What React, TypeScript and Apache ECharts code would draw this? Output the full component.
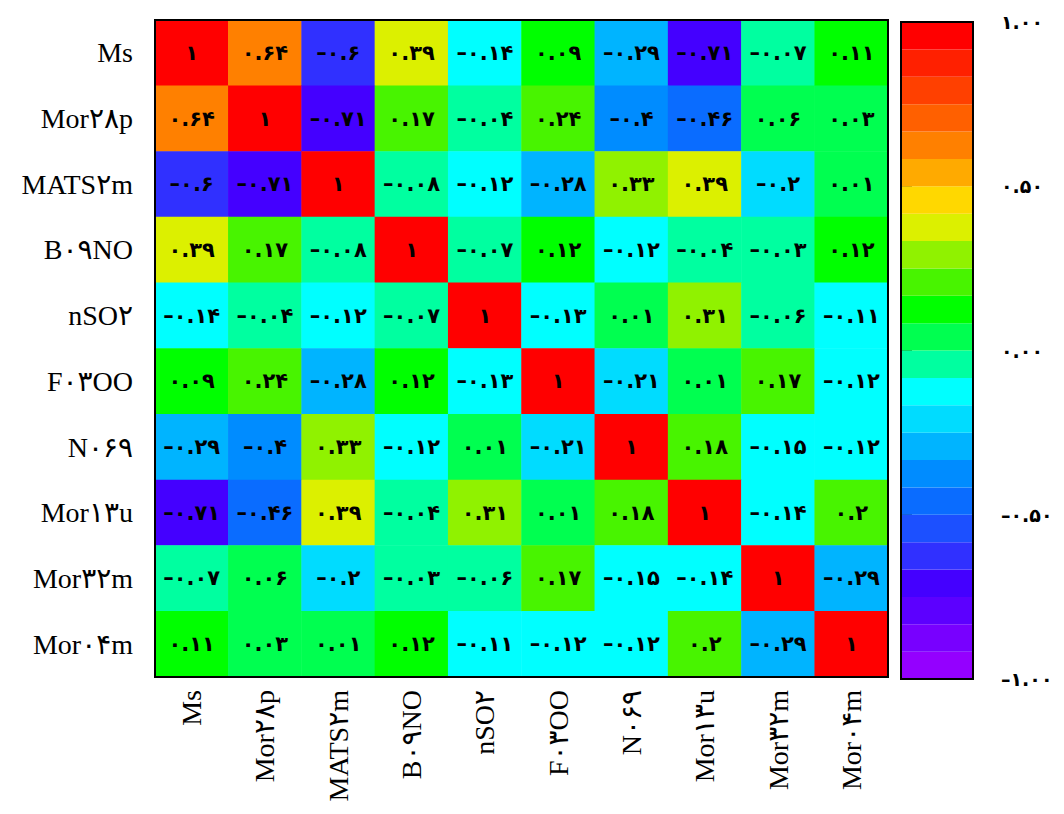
import React, { useEffect, useRef } from "react";
import * as echarts from "echarts";

// Variable names (as displayed, Persian digits)
const labels = ["Ms", "Mor۲۸p", "MATS۲m", "B۰۹NO", "nSO۲", "F۰۳OO", "N۰۶۹", "Mor۱۳u", "Mor۳۲m", "Mor۰۴m"];

// Correlation rows (top to bottom)
const rowMs = [1, 0.64, -0.6, 0.39, -0.14, 0.09, -0.29, -0.71, -0.07, 0.11];
const rowMor28p = [0.64, 1, -0.71, 0.17, -0.04, 0.24, -0.4, -0.46, 0.06, 0.03];
const rowMATS2m = [-0.6, -0.71, 1, -0.08, -0.12, -0.28, 0.33, 0.39, -0.2, 0.01];
const rowB09NO = [0.39, 0.17, -0.08, 1, -0.07, 0.12, -0.12, -0.04, -0.03, 0.12];
const rowNSO2 = [-0.14, -0.04, -0.12, -0.07, 1, -0.13, 0.01, 0.31, -0.06, -0.11];
const rowF03OO = [0.09, 0.24, -0.28, 0.12, -0.13, 1, -0.21, 0.01, 0.17, -0.12];
const rowN069 = [-0.29, -0.4, 0.33, -0.12, 0.01, -0.21, 1, 0.18, -0.15, -0.12];
const rowMor13u = [-0.71, -0.46, 0.39, -0.04, 0.31, 0.01, 0.18, 1, -0.14, 0.2];
const rowMor32m = [-0.07, 0.06, -0.2, -0.03, -0.06, 0.17, -0.15, -0.14, 1, -0.29];
const rowMor04m = [0.11, 0.03, 0.01, 0.12, -0.11, -0.12, -0.12, 0.2, -0.29, 1];
const matrix = [rowMs, rowMor28p, rowMATS2m, rowB09NO, rowNSO2, rowF03OO, rowN069, rowMor13u, rowMor32m, rowMor04m];

// 24 colour bands from -1 (bottom) to +1 (top)
const bandColors = [
  "#9400ff", "#7800ff", "#5c00ff", "#4400ff", "#3030ff", "#1c50ff",
  "#0a6cff", "#008cff", "#00b4ff", "#00dcff", "#00ffff", "#00ffa0",
  "#00ff50", "#00ff00", "#48f400", "#90f200", "#dcf000", "#ffd800",
  "#ffaa00", "#ff8000", "#ff6000", "#ff4000", "#ff2000", "#ff0000",
];
const bandMin = -1;
const bandMax = 1;

const FA = "۰۱۲۳۴۵۶۷۸۹";
const fa = (s: string) => s.replace(/[0-9]/g, (d) => FA[+d]).replace(/-/g, "–");
const cellText = (v: number) => fa(String(v));
const tickText = (v: number) => fa(v.toFixed(2));

const latinFont = "'Liberation Serif', 'DejaVu Sans', serif";
const numFont = "'DejaVu Sans', sans-serif";

export default function App() {
  const ref = useRef<HTMLDivElement>(null);
  useEffect(() => {
    if (!ref.current) return;
    const chart = echarts.init(ref.current, undefined, { renderer: "svg" });
    const step = (bandMax - bandMin) / bandColors.length;
    const pieces = bandColors.map((c, i) => {
      const p: any = { gte: bandMin + i * step, color: c };
      if (i === bandColors.length - 1) p.lte = bandMax;
      else p.lt = bandMin + (i + 1) * step;
      return p;
    });
    const heatData: number[][] = [];
    matrix.forEach((row, i) => row.forEach((v, j) => heatData.push([j, i, v])));
    const barData = bandColors.map((_, i) => [bandMin + i * step, bandMin + (i + 1) * step, i]);

    const GL = 155, GT = 20, GW = 733, GH = 657;
    const CL = 901, CT = 22, CW = 72, CH = 657;

    chart.setOption({
      animation: false,
      backgroundColor: "#fff",
      grid: [
        { left: GL, top: GT, width: GW, height: GH },
        { left: CL, top: CT, width: CW, height: CH },
      ],
      xAxis: [
        {
          type: "category",
          gridIndex: 0,
          data: labels,
          axisLine: { lineStyle: { color: "#000", width: 2 } },
          axisTick: { alignWithLabel: true, length: 11, lineStyle: { color: "#000", width: 2 } },
          axisLabel: { rotate: 90, fontSize: 28, fontFamily: latinFont, color: "#000", margin: 13, interval: 0 },
          splitLine: { show: false },
          splitArea: { show: false },
        },
        { type: "value", gridIndex: 1, min: 0, max: 1, show: false },
      ],
      yAxis: [
        {
          type: "category",
          gridIndex: 0,
          data: labels,
          inverse: true,
          axisLine: { lineStyle: { color: "#000", width: 2 } },
          axisTick: { alignWithLabel: true, length: 12, lineStyle: { color: "#000", width: 2 } },
          axisLabel: { fontSize: 28, fontFamily: latinFont, color: "#000", margin: 22, interval: 0 },
          splitLine: { show: false },
          splitArea: { show: false },
        },
        {
          type: "value",
          gridIndex: 1,
          min: -1,
          max: 1,
          interval: 0.5,
          position: "right",
          axisLine: { show: false },
          axisTick: { show: true, length: 11, lineStyle: { color: "#000", width: 1.5 } },
          axisLabel: { formatter: tickText, fontSize: 19, fontWeight: "bold", fontFamily: numFont, color: "#000", margin: 28 },
          splitLine: { show: false },
        },
      ],
      visualMap: {
        type: "piecewise",
        show: false,
        seriesIndex: 0,
        dimension: 2,
        pieces,
      },
      graphic: [
        { type: "rect", z: 100, shape: { x: GL, y: GT, width: GW, height: GH }, style: { fill: "none", stroke: "#000", lineWidth: 2 } },
        { type: "rect", z: 100, shape: { x: CL, y: CT, width: CW, height: CH }, style: { fill: "none", stroke: "#000", lineWidth: 2 } },
      ],
      series: [
        {
          type: "heatmap",
          xAxisIndex: 0,
          yAxisIndex: 0,
          data: heatData,
          itemStyle: { borderWidth: 0 },
          label: {
            show: true,
            formatter: (p: any) => cellText(p.value[2]),
            fontSize: 21,
            fontWeight: "bold",
            fontFamily: numFont,
            color: "#000",
          },
        },
        {
          type: "custom",
          xAxisIndex: 1,
          yAxisIndex: 1,
          data: barData,
          encode: { y: [0, 1] },
          silent: true,
          renderItem: (_params: any, api: any) => {
            const lo = api.value(0);
            const hi = api.value(1);
            const idx = api.value(2);
            const p1 = api.coord([0, hi]);
            const p2 = api.coord([1, lo]);
            return {
              type: "rect",
              shape: { x: p1[0], y: p1[1], width: p2[0] - p1[0], height: p2[1] - p1[1] },
              style: { fill: bandColors[idx] },
            };
          },
        },
      ],
    });
    return () => chart.dispose();
  }, []);
  return <div ref={ref} style={{ position: "absolute", left: 0, top: 0, width: 1064, height: 814 }} />;
}
